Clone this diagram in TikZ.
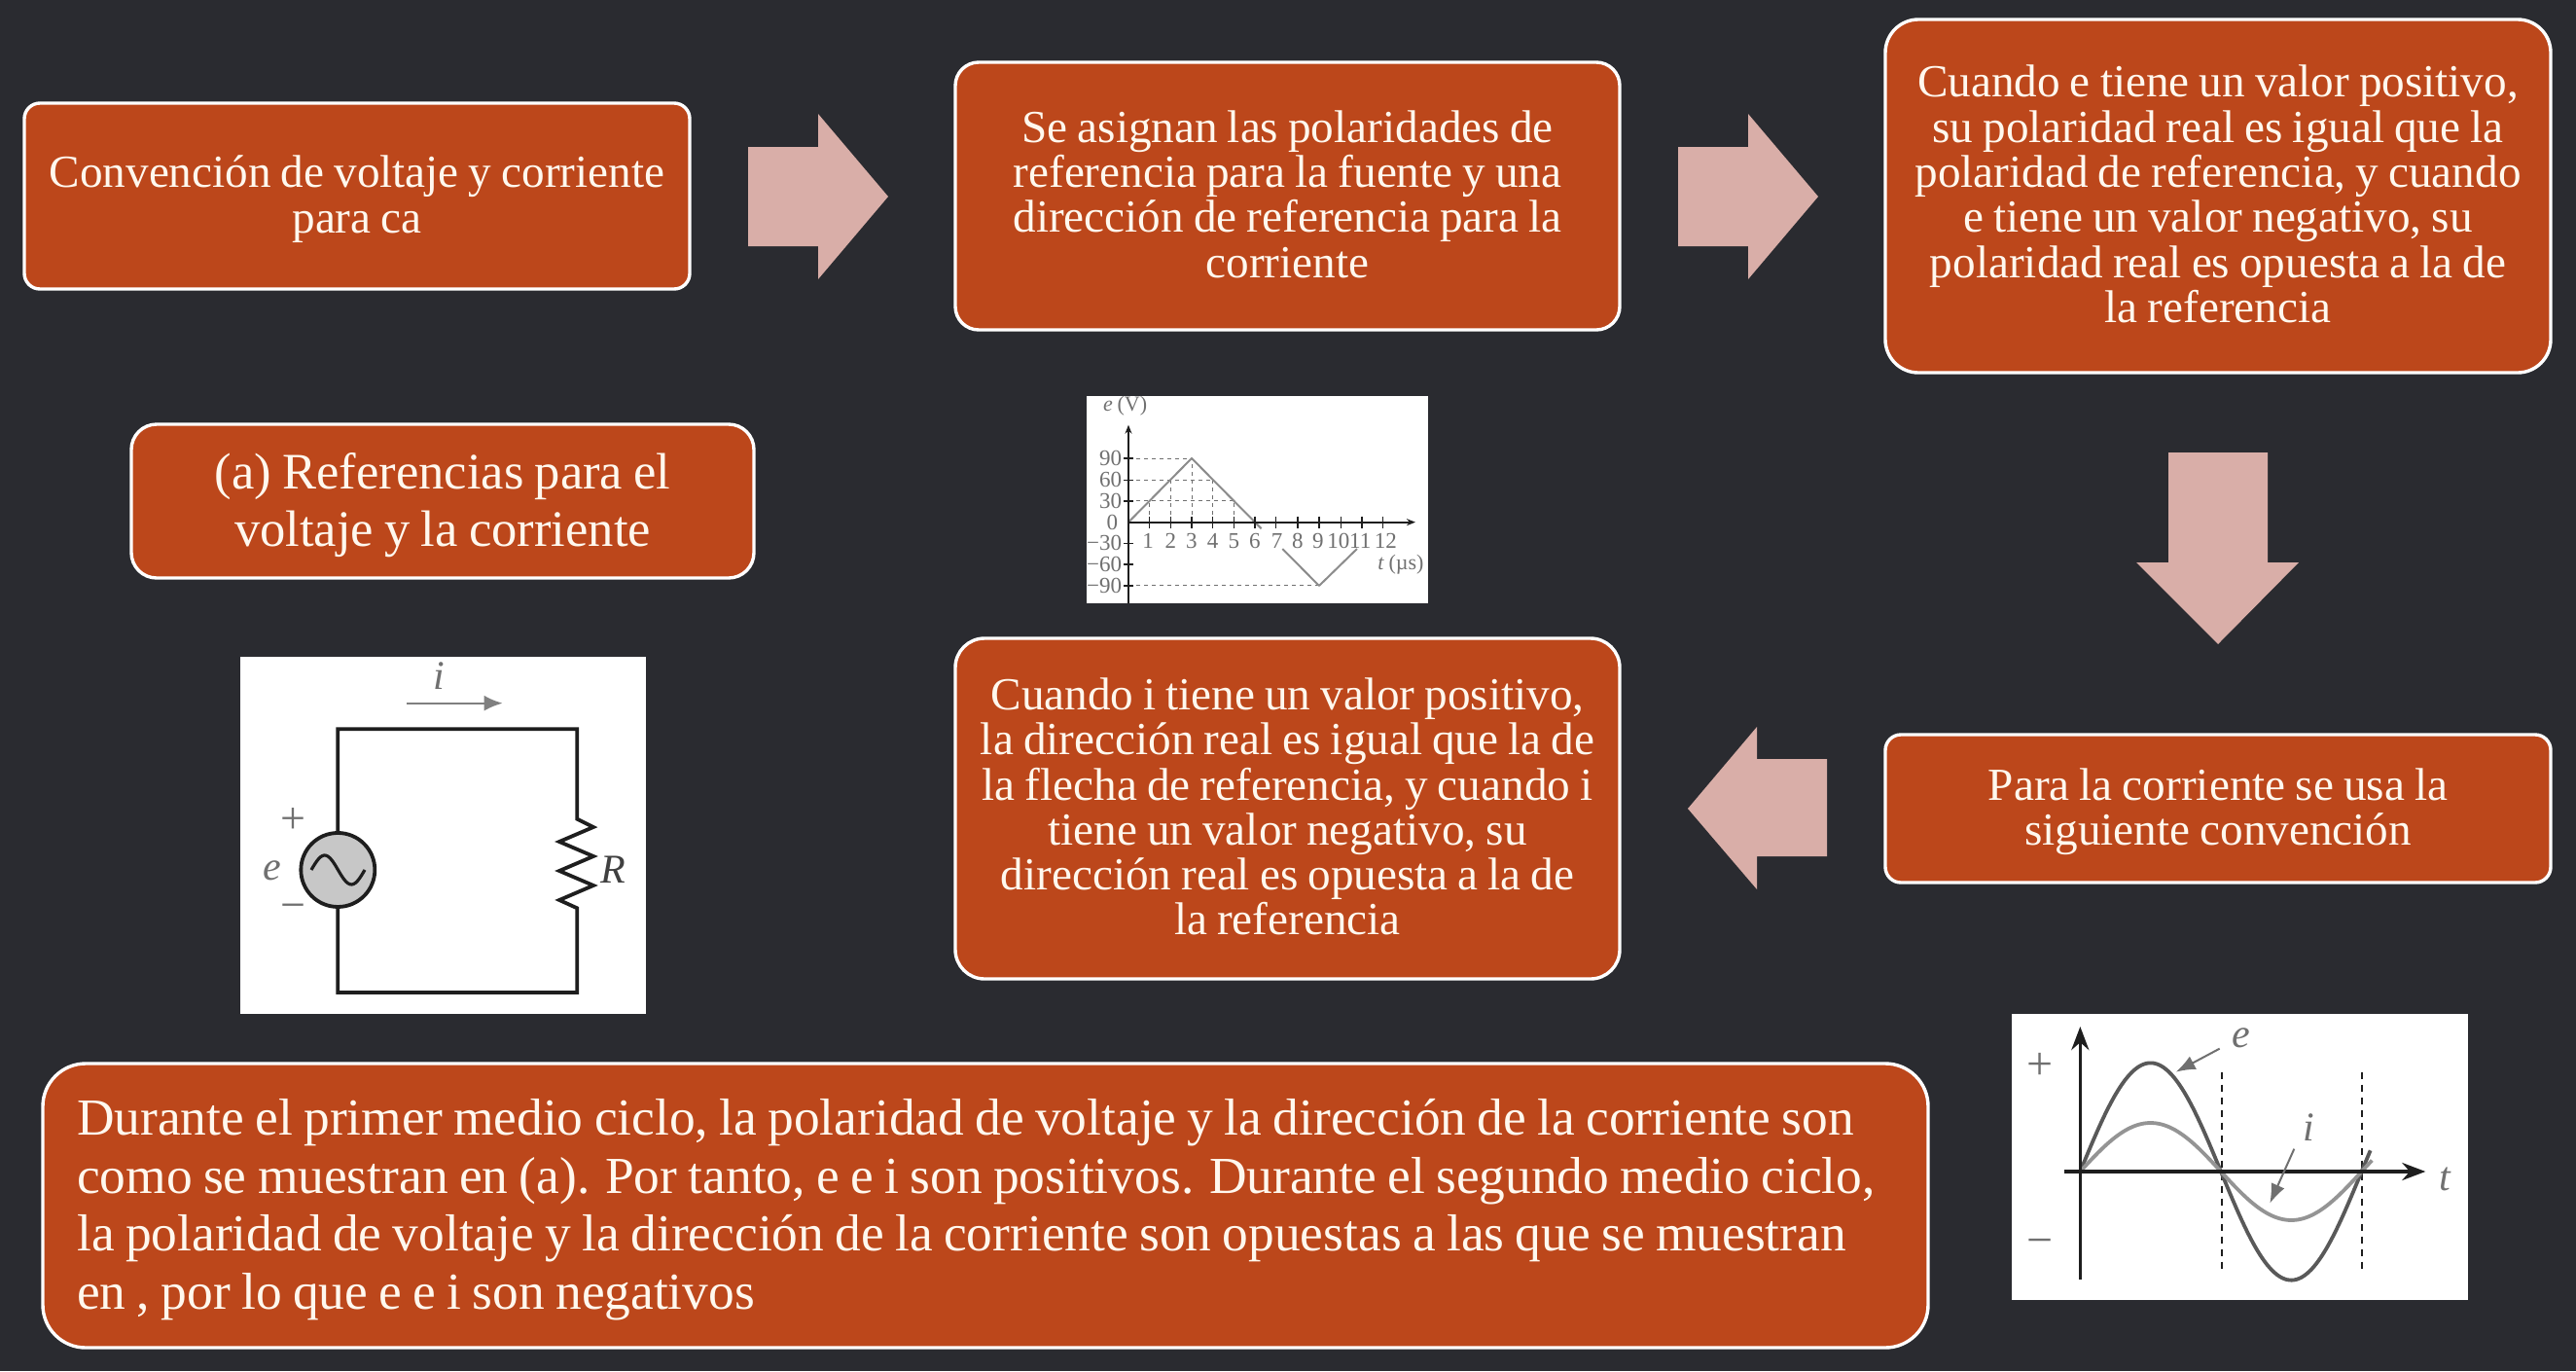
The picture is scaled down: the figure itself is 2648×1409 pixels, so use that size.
\documentclass[tikz,border=0pt]{standalone}
\usepackage{fontspec}
\setmainfont[WordSpace=0.85]{Liberation Serif}
\usetikzlibrary{arrows.meta}
\definecolor{bgdark}{HTML}{2A2B30}
\definecolor{boxfill}{HTML}{BC471B}
\definecolor{pinkarrow}{HTML}{D9AEA8}
\definecolor{textwhite}{HTML}{FFF8EE}
\definecolor{pen}{HTML}{1E1E1E}
\definecolor{soft}{HTML}{707070}
\tikzset{
  x=1pt,y=-1pt,
  card/.style={draw=white,fill=boxfill,line width=3.4pt,rounded corners=#1,inner sep=0pt},
  card/.default=24pt,
  cardtext/.style={text=textwhite,align=center,inner sep=0pt,font=\fontsize{47.2}{46.3}\selectfont},
  bigtext/.style={text=textwhite,inner sep=0pt,font=\fontsize{#1}{59.6}\selectfont},
  blockarrow/.style={fill=pinkarrow},
  photo/.style={fill=white},
  thin grid/.style={draw=soft,line width=1pt,dash pattern=on 4pt off 4pt},
  graylab/.style={text=soft,inner sep=0pt,font=\fontsize{#1}{#1}\selectfont},
}
\begin{document}
\begin{tikzpicture}
\useasboundingbox (0,0) rectangle (2648,1409);
\fill[bgdark] (0,0) rectangle (2648,1409);

\node[card=16pt,minimum width=684pt,minimum height=191pt] (a) at (367,201.5) {};
\node[cardtext,yshift=-3pt] (atext) at (a) {Convención de voltaje y corriente\\para ca};
\node[card=24pt,minimum width=683pt,minimum height=275pt] (b) at (1323.5,201.5) {};
\node[cardtext,yshift=2pt] (btext) at (b) {Se asignan las polaridades de\\referencia para la fuente y una\\dirección de referencia para la\\corriente};
\node[card=34pt,minimum width=684pt,minimum height=363pt] (c) at (2280,201.5) {};
\node[cardtext,yshift=2pt] (ctext) at (c) {Cuando e tiene un valor positivo,\\su polaridad real es igual que la\\polaridad de referencia, y cuando\\e tiene un valor negativo, su\\polaridad real es opuesta a la de\\la referencia};
\node[card=16pt,minimum width=684pt,minimum height=152pt] (d) at (2280,831) {};
\node[cardtext,yshift=-3pt] (dtext) at (d) {Para la corriente se usa la\\siguiente convención};
\node[card=30pt,minimum width=683pt,minimum height=350pt] (e) at (1323.5,831) {};
\node[cardtext,yshift=2pt] (etext) at (e) {Cuando i tiene un valor positivo,\\la dirección real es igual que la de\\la flecha de referencia, y cuando i\\tiene un valor negativo, su\\dirección real es opuesta a la de\\la referencia};
\node[card=26pt,minimum width=640pt,minimum height=158pt] (f) at (455,515) {};
\node[bigtext=52.6,align=center,yshift=-4pt] (ftext) at (f) {(a) Referencias para el\\voltaje y la corriente};
\node[card=44pt,minimum width=1938pt,minimum height=292pt] (g) at (1013,1239) {};
\node[bigtext=53.4,align=left,anchor=west,yshift=-4pt] (gtext) at (79,1239) {Durante el primer medio ciclo, la polaridad de voltaje y la dirección de la corriente son\\como se muestran en (a). Por tanto, e e i son positivos. Durante el segundo medio ciclo,\\la polaridad de voltaje y la dirección de la corriente son opuestas a las que se muestran\\en , por lo que e e i son negativos};

% block arrows
\fill[blockarrow] (769,151) -- (841,151) -- (841,117) -- (913,202) -- (841,287) -- (841,253) -- (769,253) -- cycle;
\fill[blockarrow] (1725,151) -- (1797,151) -- (1797,117) -- (1869,202) -- (1797,287) -- (1797,253) -- (1725,253) -- cycle;
\fill[blockarrow] (2229,465) -- (2331,465) -- (2331,578) -- (2363,578) -- (2280,662) -- (2196,578) -- (2229,578) -- cycle;
\fill[blockarrow] (1878,780) -- (1806,780) -- (1806,747) -- (1735,831) -- (1806,914) -- (1806,880) -- (1878,880) -- cycle;

% waveform graph
\fill[photo] (1117,407) rectangle (1468,620);
\begin{scope}[shift={(1090,390)},x=0.3333pt,y=-0.3333pt]
  \draw[thin grid] (210,243) -- (405,243);
  \draw[thin grid] (210,310) -- (470,310);
  \draw[thin grid] (210,375) -- (535,375);
  \draw[thin grid] (210,636) -- (798,636);
  \foreach \xx/\yy in {275/375,340/310,405/243,470/310,535/375} \draw[thin grid] (\xx,440) -- (\xx,\yy);
  \draw[black!45,line width=2pt,line join=round] (210,440) -- (405,243) -- (620,460);
  \draw[black!45,line width=2pt,line join=round] (685,522) -- (798,636) -- (915,522);
  \draw[pen,line width=2pt,-{Stealth[length=9pt,width=7pt]}] (210,690) -- (210,140);
  \draw[pen,line width=2pt,-{Stealth[length=9pt,width=7pt]}] (210,440) -- (1095,440);
  \foreach \xx in {275,340,405,470,535,600,665,732,798,865,930,995} \draw[pen,line width=1.4pt] (\xx,422) -- (\xx,458);
  \foreach \yy in {243,310,375,505,570,636} \draw[pen,line width=1.4pt] (195,\yy) -- (225,\yy);
  \foreach \xx/\lab in {270/1,340/2,405/3,470/4,535/5,600/6,668/7,732/8,795/9,858/10,925/11,1003/12}
    \node[graylab=23] (tick\lab) at (\xx,497) {\lab};
  \foreach \yy/\lab in {243/90,310/60,375/30,505/{−30},570/{−60},636/{−90}}
    \node[graylab=23,anchor=east] (ylab\yy) at (190,\yy) {\lab};
  \node[graylab=23,anchor=east] (yzero) at (178,440) {0};
  \node[graylab=22] (eaxis) at (200,82) {\textit{e} (V)};
  \node[graylab=22] (taxis) at (1050,570) {\textit{t} (µs)};
\end{scope}

% circuit
\fill[photo] (247,675) rectangle (664,1042);
\begin{scope}[shift={(230,660)},x=0.3333pt,y=-0.3333pt]
  \draw[draw=pen,line width=3.8pt,line join=miter]
    (352,702) -- (352,268) -- (1090,268) -- (1090,545) -- (1140,570) -- (1035,615) -- (1140,660) -- (1035,705) -- (1140,750) -- (1035,795) -- (1090,820) -- (1090,1080) -- (352,1080) -- cycle;
  \node[circle,draw=pen,fill=black!22,line width=3.8pt,minimum size=76pt,inner sep=0pt] (src) at (352,702) {};
  \draw[pen,line width=3.2pt] plot[smooth,samples=30,domain=270:435] ({\x},{702-45*sin((\x-270)/165*360)});
  \draw[black!50,line width=2.2pt,-{Latex[length=19pt,width=16pt]}] (565,188) -- (860,188);
  \node[graylab=42] (ilabel) at (665,105) {\textit{i}};
  \node[graylab=46] (plus) at (213,552) {+};
  \node[graylab=46] (minus) at (213,833) {−};
  \node[graylab=42] (elabel) at (148,705) {\textit{e}};
  \node[inner sep=0pt,text=pen!85,font=\fontsize{42}{42}\selectfont] (rlabel) at (1200,700) {\textit{R}};
\end{scope}

% sine graph
\fill[photo] (2068,1042) rectangle (2537,1336);
\begin{scope}[shift={(2050,1030)},x=0.3333pt,y=-0.3333pt]
  \draw[pen,line width=2.2pt,dash pattern=on 7pt off 6pt] (702,215) -- (702,830);
  \draw[pen,line width=2.2pt,dash pattern=on 7pt off 6pt] (1133,215) -- (1133,830);
  \draw[black!65,line width=3.8pt,line join=round] plot[smooth,samples=60,domain=0:895] ({265+\x},{522-335*sin(\x/434*180)});
  \draw[black!42,line width=3.8pt,line join=round] plot[smooth,samples=60,domain=0:900] ({265+\x},{522-150*sin(\x/434*180)});
  \draw[pen,line width=3.6pt,-{Stealth[length=24pt,width=18pt]}] (265,855) -- (265,75);
  \draw[pen,line width=3.6pt,-{Stealth[length=24pt,width=18pt]}] (215,522) -- (1330,522);
  \draw[soft,line width=2pt,-{Latex[length=20pt,width=15pt]}] (695,143) -- (560,215);
  \draw[soft,line width=2pt,-{Latex[length=20pt,width=15pt]}] (925,452) -- (850,620);
  \node[graylab=48] (plus2) at (140,198) {+};
  \node[graylab=48] (minus2) at (140,755) {−};
  \node[graylab=42] (e2) at (760,110) {\textit{e}};
  \node[graylab=42] (i2) at (970,385) {\textit{i}};
  \node[graylab=42] (t2) at (1392,545) {\textit{t}};
\end{scope}
\end{tikzpicture}
\end{document}
